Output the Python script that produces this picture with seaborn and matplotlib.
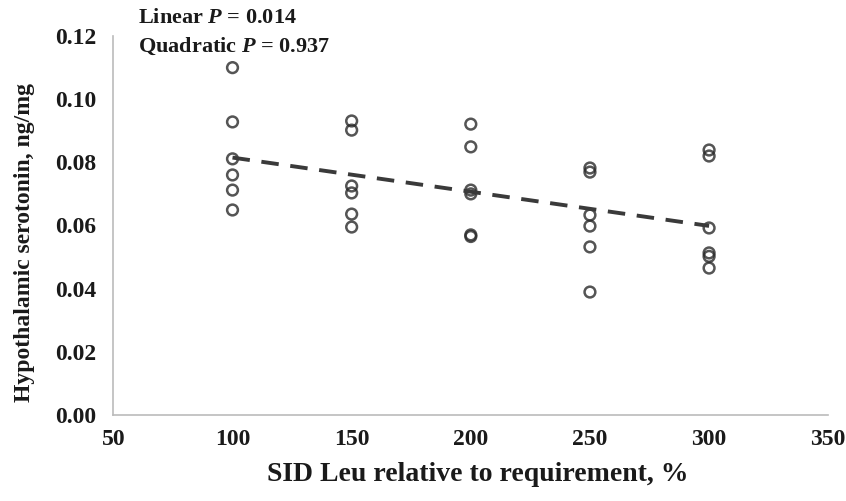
import numpy as np
import pandas as pd
import matplotlib
matplotlib.use("Agg")
import matplotlib.pyplot as plt
import seaborn as sns

# SID Leu levels (% of requirement) and serotonin values
leu_levels = [100, 150, 200, 250, 300]
sero_100 = [0.110, 0.0928, 0.0811, 0.0760, 0.0712, 0.0649]
sero_150 = [0.0931, 0.0902, 0.0725, 0.0703, 0.0636, 0.0595]
sero_200 = [0.0921, 0.0849, 0.0712, 0.0700, 0.0570, 0.0565]
sero_250 = [0.0782, 0.0769, 0.0633, 0.0598, 0.0532, 0.0389]
sero_300 = [0.0839, 0.0820, 0.0592, 0.0513, 0.0502, 0.0465]

x_ticks = [50, 100, 150, 200, 250, 300, 350]
y_ticks = [0.00, 0.02, 0.04, 0.06, 0.08, 0.10, 0.12]

groups = [sero_100, sero_150, sero_200, sero_250, sero_300]
df = pd.DataFrame({
    "leu": np.repeat(leu_levels, [len(g) for g in groups]),
    "serotonin": np.concatenate(groups),
})

sns.set_style("white")
plt.rcParams["font.family"] = ["Liberation Serif", "DejaVu Serif"]
plt.rcParams["font.weight"] = "bold"
plt.rcParams["mathtext.fontset"] = "custom"
plt.rcParams["mathtext.it"] = "Liberation Serif:italic:bold"
plt.rcParams["mathtext.rm"] = "Liberation Serif:bold"

fig = plt.figure(figsize=(8.46, 5.01), dpi=100)
ax = fig.add_axes([0.134, 0.172, 0.845, 0.756])

# open circles plus the linear fit (dashed)
sns.regplot(data=df, x="leu", y="serotonin", ci=None, ax=ax,
            scatter_kws=dict(s=60, facecolors="none", edgecolors="#2a2a2a", linewidths=1.8),
            line_kws=dict(color="#3a3a3a", lw=2.8, linestyle=(0, (4.5, 3))))

ax.set_xlim(50, 350)
ax.set_ylim(0, 0.12)
ax.set_xticks(x_ticks)
ax.set_yticks(y_ticks)
ax.set_yticklabels([f"{v:.2f}" for v in y_ticks])
ax.tick_params(axis="both", labelsize=17, colors="#1a1a1a")
ax.tick_params(axis="x", direction="in", length=5, color="#bbbbbb", pad=10)
ax.tick_params(axis="y", direction="out", length=5, color="#bbbbbb", pad=7)

for s in ["top", "right"]:
    ax.spines[s].set_visible(False)
for s in ["left", "bottom"]:
    ax.spines[s].set_color("#bbbbbb")
    ax.spines[s].set_linewidth(1.2)

ax.set_xlabel("SID Leu relative to requirement, %", fontsize=20, fontweight="bold",
              color="#1a1a1a")
ax.set_ylabel("Hypothalamic serotonin, ng/mg", fontsize=17, fontweight="bold",
              color="#1a1a1a")
ax.xaxis.set_label_coords(0.51, -0.125)
ax.yaxis.set_label_coords(-0.110, 0.455)

ax.text(0.034, 1.075, "Linear $P$ = 0.014", transform=ax.transAxes, fontsize=16,
        fontweight="bold", va="top", ha="left", color="#1a1a1a")
ax.text(0.034, 1.0, "Quadratic $P$ = 0.937", transform=ax.transAxes, fontsize=16,
        fontweight="bold", va="top", ha="left", color="#1a1a1a")

fig.savefig("out.png", dpi=100)
